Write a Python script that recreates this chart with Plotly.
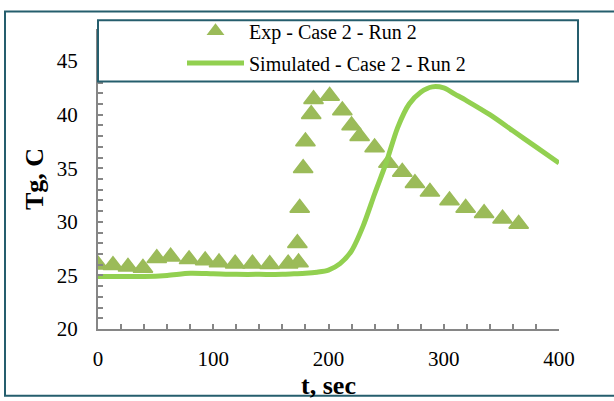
import plotly.graph_objects as go

# Experimental data (time s, gas temperature C)
exp_t = [0, 13, 26, 39, 51, 63, 79, 93, 105, 119, 134, 149, 165, 173, 174, 175,
         178, 180, 185, 187, 201, 212, 220, 227, 240, 252, 264, 275, 288, 305,
         319, 335, 351, 365]
exp_tg = [26.0, 25.95, 25.8, 25.7, 26.6, 26.75, 26.5, 26.4, 26.2, 26.1, 26.1, 26.05,
          26.1, 28.0, 26.2, 31.3, 35.0, 37.5, 40.05, 41.45, 41.75, 40.4, 39.0, 38.0,
          36.95, 35.5, 34.65, 33.6, 32.8, 32.0, 31.3, 30.8, 30.3, 29.8]

# Simulated curve
sim_t = [0, 20, 40, 60, 80, 100, 120, 140, 160, 170, 180, 190, 200, 210, 220, 230,
         240, 250, 260, 270, 280, 290, 300, 310, 320, 340, 360, 380, 400]
sim_tg = [24.9, 24.9, 24.9, 25.0, 25.2, 25.15, 25.1, 25.1, 25.1, 25.15, 25.2, 25.3,
          25.5, 26.1, 27.3, 29.6, 32.6, 35.5, 38.8, 41.0, 42.1, 42.6, 42.5, 41.9,
          41.3, 40.0, 38.5, 37.0, 35.5]

exp_name = "Exp - Case 2 - Run 2"
sim_name = "Simulated - Case 2 - Run 2"

FONT = "Times New Roman, Liberation Serif, serif"
TEAL = "#255E6D"
GRAY = "#868686"

W, H = 614, 401
ML, MR, MT, MB = 98, 55, 23, 70
PW, PH = W - ML - MR, H - MT - MB


def px(x):
    return (x - ML) / PW


def py(y):
    return (H - MB - y) / PH


fig = go.Figure()
fig.add_trace(go.Scatter(
    x=exp_t, y=exp_tg, mode="markers", name=exp_name, legendgroup="a",
    marker=dict(symbol="triangle-up", size=17, color="#9BBB59",
                line=dict(color="#9BBB59", width=1.5)),
))
fig.add_trace(go.Scatter(
    x=sim_t, y=sim_tg, mode="lines", name=sim_name, legendgroup="b",
    line=dict(color="#92D050", width=5, shape="spline", smoothing=0.8),
))

fig.update_layout(
    width=W, height=H,
    margin=dict(l=ML, r=MR, t=MT, b=MB),
    paper_bgcolor="white", plot_bgcolor="white",
    font=dict(family=FONT, size=21, color="black"),
    showlegend=True,
    legend=dict(
        x=px(182), y=py(5), xanchor="left", yanchor="top",
        bgcolor="rgba(0,0,0,0)", borderwidth=0,
        font=dict(family=FONT, size=20, color="black"),
        traceorder="grouped", tracegroupgap=3, itemwidth=57,
        itemsizing="constant",
    ),
    xaxis=dict(
        range=[0, 400], tickmode="array", tickvals=[0, 100, 200, 300, 400],
        ticktext=["0", "100", "200", "300", "400"],
        showgrid=False, zeroline=False, showline=True, linecolor=GRAY, linewidth=2,
        ticks="inside", ticklen=5, tickwidth=1.5, tickcolor=GRAY,
        minor=dict(dtick=20, ticks="inside", ticklen=5, tickwidth=1.5, tickcolor=GRAY, showgrid=False),
        ticklabelstandoff=10,
        tickfont=dict(family=FONT, size=21),
        title=dict(text="<b>t, sec</b>", font=dict(family=FONT, size=26), standoff=0),
    ),
    yaxis=dict(
        range=[20, 48], tickmode="array", tickvals=[20, 25, 30, 35, 40, 45],
        ticktext=["20", "25", "30", "35", "40", "45"],
        showgrid=False, zeroline=False, showline=True, linecolor=GRAY, linewidth=2,
        ticks="inside", ticklen=5, tickwidth=1.5, tickcolor=GRAY,
        minor=dict(dtick=1, ticks="inside", ticklen=5, tickwidth=1.5, tickcolor=GRAY, showgrid=False),
        ticklabelstandoff=14,
        tickfont=dict(family=FONT, size=21),
        title=dict(text="<b>Tg, C</b>", font=dict(family=FONT, size=26), standoff=6),
    ),
    shapes=[
        # legend box
        dict(type="rect", xref="paper", yref="paper",
             x0=px(98), x1=px(578), y0=py(77), y1=py(14),
             fillcolor="white", line=dict(color=TEAL, width=2), layer="above"),
        # outer chart border
        dict(type="rect", xref="paper", yref="paper",
             x0=px(5), x1=px(625), y0=py(399.5), y1=py(5),
             fillcolor="rgba(0,0,0,0)", line=dict(color=TEAL, width=2), layer="above"),
    ],
)

fig.write_html("out.html")
